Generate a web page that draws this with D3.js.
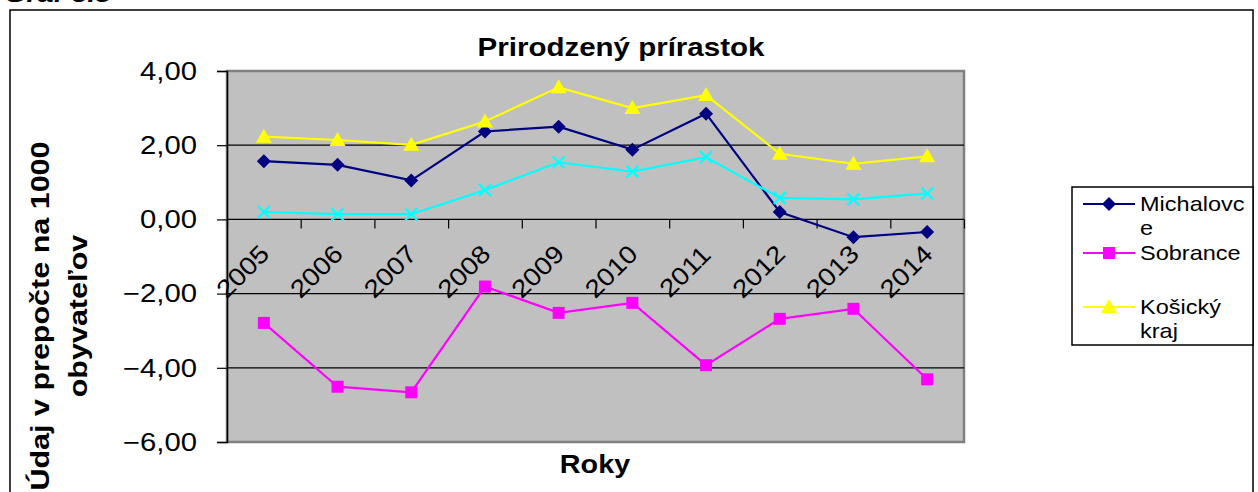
<!DOCTYPE html>
<html>
<head>
<meta charset="utf-8">
<script src="https://cdn.jsdelivr.net/npm/d3@7"></script>
<style>
  body { margin: 0; background: #fff; }
  svg { display: block; font-family: Arial, "Liberation Sans", sans-serif; }
</style>
</head>
<body>
<svg id="canvas" width="1258" height="492"></svg>
<script>
// data
const years = ['2005', '2006', '2007', '2008', '2009', '2010', '2011', '2012', '2013', '2014'];
const michalovce = [1.57, 1.47, 1.05, 2.37, 2.50, 1.88, 2.85, 0.20, -0.48, -0.34];
const sobrance = [-2.79, -4.51, -4.66, -1.81, -2.52, -2.25, -3.93, -2.68, -2.41, -4.31];
const kosickyKraj = [2.23, 2.14, 2.01, 2.64, 3.56, 3.00, 3.35, 1.77, 1.50, 1.70];
const fourthSeries = [0.20, 0.14, 0.14, 0.79, 1.54, 1.29, 1.68, 0.58, 0.54, 0.70];
const yTicks = [-6, -4, -2, 0, 2, 4];

const chartTitle = 'Prirodzený prírastok';
const xTitle = 'Roky';
const yTitleLines = ['Údaj v prepočte na 1000', 'obyvateľov'];

const series = [
  { name: ['Michalovc', 'e'], values: michalovce, color: '#000080', marker: 'diamond', legend: true },
  { name: ['Sobrance'], values: sobrance, color: '#ff00ff', marker: 'square', legend: true },
  { name: ['Košický', 'kraj'], values: kosickyKraj, color: '#ffff00', marker: 'triangle', legend: true },
  { name: [''], values: fourthSeries, color: '#00ffff', marker: 'cross', legend: false }
];

const svg = d3.select('#canvas');
const sx = 1.2; // text in the picture is drawn wide

const plot = { left: 227, right: 964, top: 71, bottom: 442 };

const x = d3.scaleBand().domain(years).range([plot.left, plot.right]);
const xEdge = d3.scaleLinear().domain([0, years.length]).range([plot.left, plot.right]);
const y = d3.scaleLinear().domain([-6, 4]).range([plot.bottom, plot.top]);

const wideText = (g, str, tx, ty, opts) => {
  const t = g.append('text')
    .attr('transform', `translate(${tx},${ty}) rotate(${opts.rotate || 0}) scale(${opts.sx || sx},1)`)
    .attr('text-anchor', opts.anchor || 'start')
    .attr('font-size', opts.size)
    .attr('font-weight', opts.weight || 'normal')
    .attr('fill', '#000')
    .text(str);
  if (opts.baseline) t.attr('dominant-baseline', opts.baseline);
  return t;
};

// partly hidden heading above the frame
wideText(svg, 'Graf č.5', 4, 2, { size: 24, weight: 'bold' }).attr('font-style', 'italic');

// outer frame
svg.append('rect')
  .attr('x', 10).attr('y', 10)
  .attr('width', 1243).attr('height', 500)
  .attr('fill', '#fff')
  .attr('stroke', '#000')
  .attr('stroke-width', 1.5);

// plot background
svg.append('rect')
  .attr('x', plot.left).attr('y', plot.top)
  .attr('width', plot.right - plot.left).attr('height', plot.bottom - plot.top)
  .attr('fill', '#c0c0c0')
  .attr('stroke', '#808080')
  .attr('stroke-width', 2.5);

// gridlines
svg.append('g')
  .selectAll('line')
  .data(yTicks.filter(v => v > -6 && v < 4))
  .enter()
  .append('line')
  .attr('x1', plot.left).attr('x2', plot.right)
  .attr('y1', d => y(d)).attr('y2', d => y(d))
  .attr('stroke', '#000')
  .attr('stroke-width', 1.2);

// y axis
const yAxis = svg.append('g')
  .attr('transform', `translate(${plot.left},0)`)
  .call(d3.axisLeft(y).tickValues(yTicks).tickSize(10).tickFormat(''));
yAxis.select('.domain').attr('stroke', '#000').attr('stroke-width', 1.5);
yAxis.selectAll('.tick line').attr('stroke', '#000').attr('stroke-width', 1.2);

const yLabels = svg.append('g');
yTicks.forEach(v => {
  wideText(yLabels, d3.format('.2f')(v).replace('.', ','), plot.left - 30, y(v), {
    size: 25, anchor: 'end', baseline: 'central', sx: 1.17
  });
});

// x axis along zero line
const xAxis = svg.append('g')
  .attr('transform', `translate(0,${y(0)})`)
  .call(d3.axisBottom(xEdge).tickValues(d3.range(0, years.length + 1)).tickSize(9).tickFormat(''));
xAxis.select('.domain').remove();
xAxis.selectAll('.tick line').attr('stroke', '#000').attr('stroke-width', 1.2);

const xLabels = svg.append('g');
years.forEach(yr => {
  wideText(xLabels, yr, x(yr) + x.bandwidth() / 2 - 21, y(0) + 52, {
    size: 25, anchor: 'middle', baseline: 'central', rotate: -45, sx: 1.12
  });
});

// markers
const drawMarker = (g, type, color, cx, cy) => {
  if (type === 'diamond') {
    g.append('path')
      .attr('d', `M${cx},${cy - 7}L${cx + 7},${cy}L${cx},${cy + 7}L${cx - 7},${cy}Z`)
      .attr('fill', color);
  } else if (type === 'square') {
    g.append('rect')
      .attr('x', cx - 6).attr('y', cy - 6)
      .attr('width', 12).attr('height', 12)
      .attr('fill', color);
  } else if (type === 'triangle') {
    g.append('path')
      .attr('d', `M${cx},${cy - 8}L${cx + 8},${cy + 6}L${cx - 8},${cy + 6}Z`)
      .attr('fill', color);
  } else if (type === 'cross') {
    g.append('path')
      .attr('d', `M${cx - 6},${cy - 6}L${cx + 6},${cy + 6}M${cx - 6},${cy + 6}L${cx + 6},${cy - 6}`)
      .attr('stroke', color)
      .attr('stroke-width', 2.2)
      .attr('fill', 'none');
  }
};

const line = d3.line()
  .x((d, i) => x(years[i]) + x.bandwidth() / 2)
  .y(d => y(d));

series.forEach(s => {
  const g = svg.append('g');
  g.append('path')
    .datum(s.values)
    .attr('d', line)
    .attr('fill', 'none')
    .attr('stroke', s.color)
    .attr('stroke-width', 2.2);
  s.values.forEach((v, i) => {
    drawMarker(g, s.marker, s.color, x(years[i]) + x.bandwidth() / 2, y(v));
  });
});

// titles
wideText(svg, chartTitle, 621, 56, { size: 25, weight: 'bold', anchor: 'middle', sx: 1.18 });
wideText(svg, xTitle, 595, 473, { size: 25, weight: 'bold', anchor: 'middle', sx: 1.15 });
wideText(svg, yTitleLines[0], 49, 316, { size: 25, weight: 'bold', anchor: 'middle', rotate: -90, sx: 1.22 });
wideText(svg, yTitleLines[1], 87, 316, { size: 25, weight: 'bold', anchor: 'middle', rotate: -90, sx: 1.22 });

// legend
const legend = svg.append('g');
legend.append('rect')
  .attr('x', 1072).attr('y', 187)
  .attr('width', 181).attr('height', 158)
  .attr('fill', '#fff')
  .attr('stroke', '#000')
  .attr('stroke-width', 1.5);

const legendRows = [204, 253, 307];
series.filter(s => s.legend).forEach((s, i) => {
  const ly = legendRows[i];
  legend.append('line')
    .attr('x1', 1083).attr('x2', 1135)
    .attr('y1', ly).attr('y2', ly)
    .attr('stroke', s.color)
    .attr('stroke-width', 2.2);
  drawMarker(legend, s.marker, s.color, 1109, ly);
  s.name.forEach((txt, j) => {
    wideText(legend, txt, 1140, ly + 7 + j * 24, { size: 21, sx: 1.12 });
  });
});
</script>
</body>
</html>
